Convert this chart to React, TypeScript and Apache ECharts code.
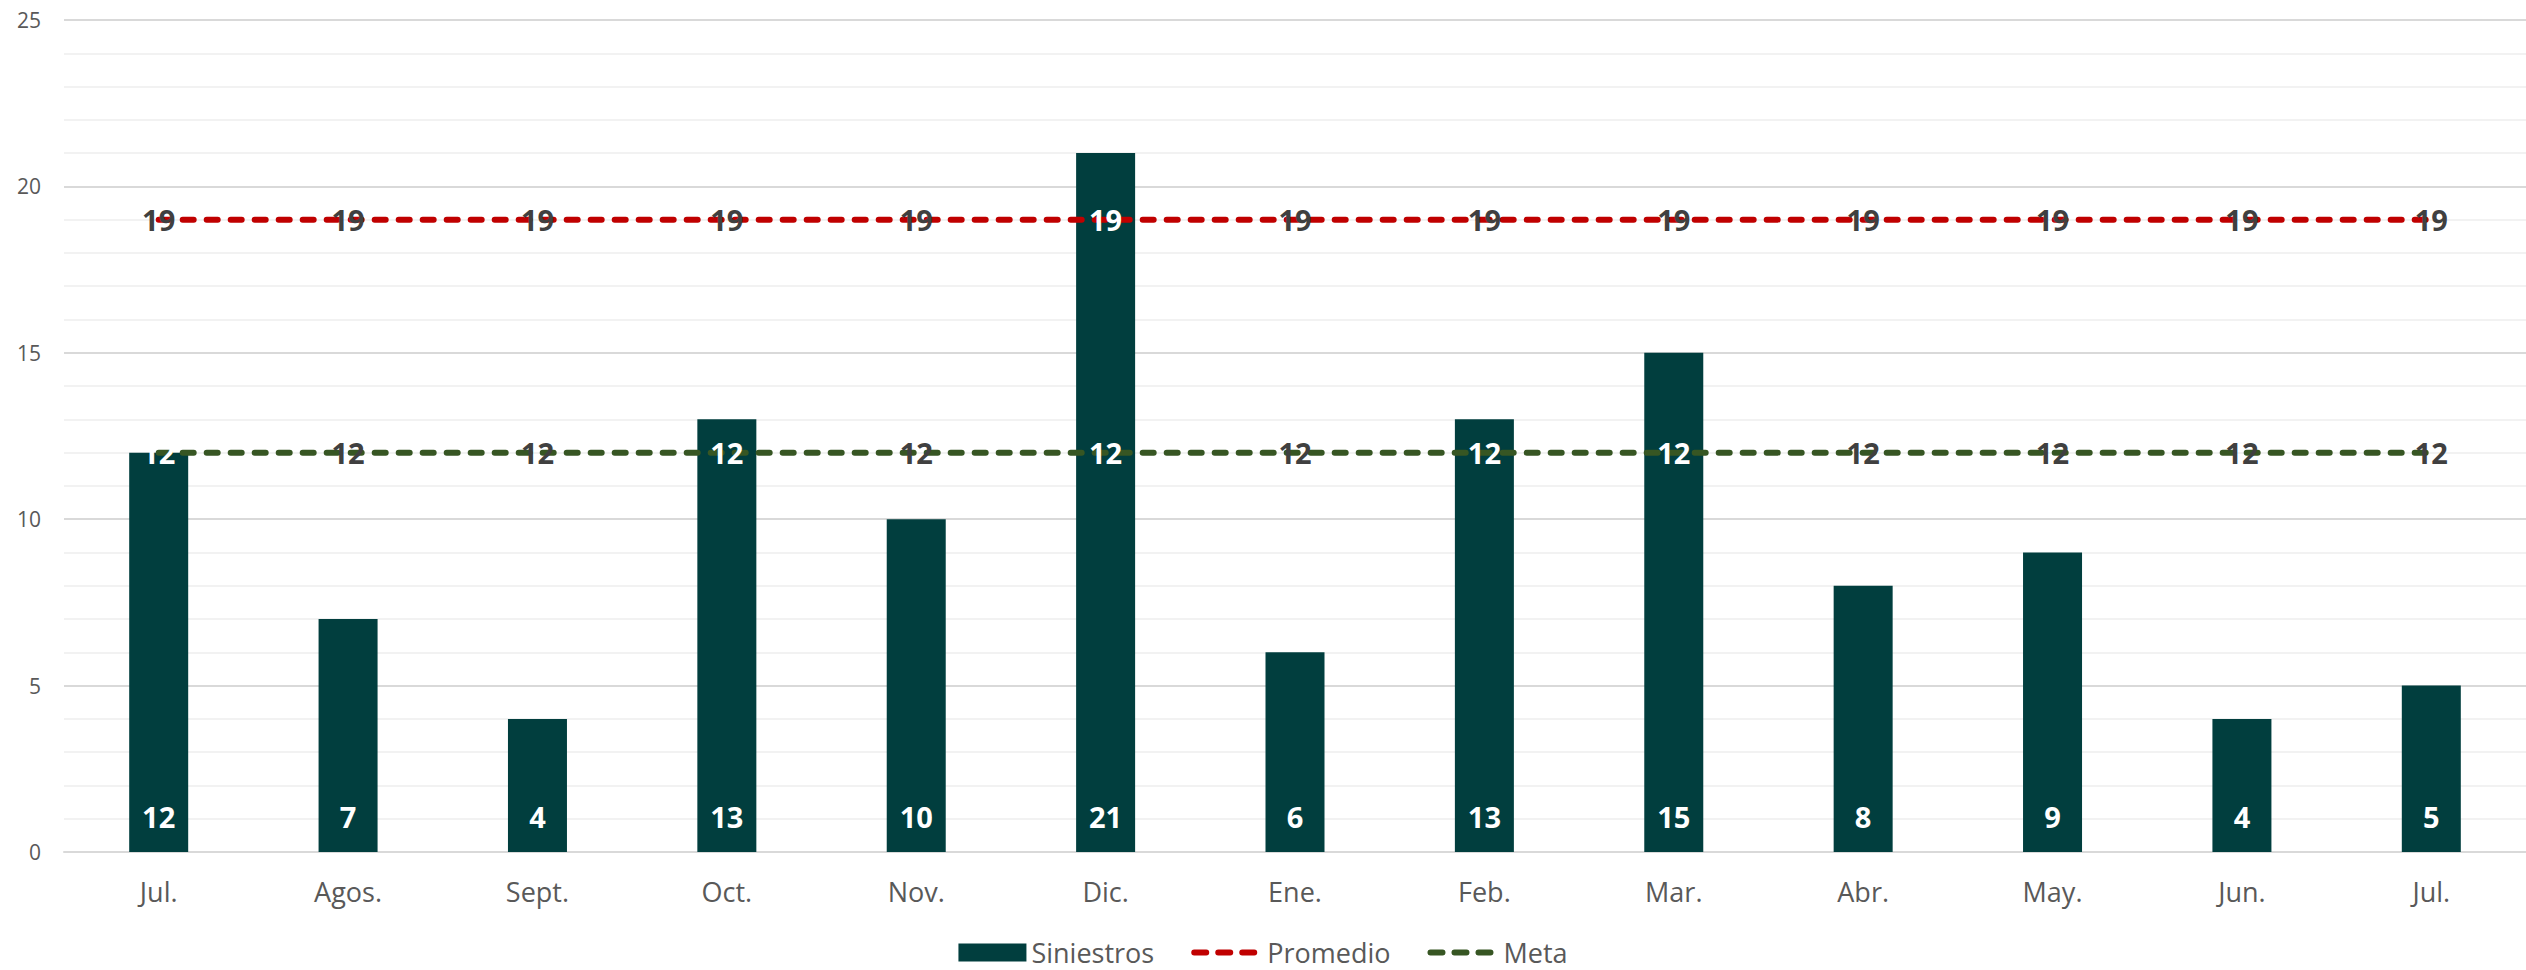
import React, { useEffect, useRef } from "react";
import * as echarts from "echarts";

const categories = ["Jul.", "Agos.", "Sept.", "Oct.", "Nov.", "Dic.", "Ene.", "Feb.", "Mar.", "Abr.", "May.", "Jun.", "Jul."];
const siniestros = [12, 7, 4, 13, 10, 21, 6, 13, 15, 8, 9, 4, 5];
const promedio = [19, 19, 19, 19, 19, 19, 19, 19, 19, 19, 19, 19, 19];
const meta = [12, 12, 12, 12, 12, 12, 12, 12, 12, 12, 12, 12, 12];

const FONT = '"Open Sans", "Noto Sans", sans-serif';
const RED = "#c00000";
const GREEN = "#375623";
const BAR = "#013e3e";
const CLEAR = "rgba(0,0,0,0)";

const lineData = (vals: number[]) =>
  vals.map((v, i) => ({
    value: v,
    label: { color: siniestros[i] >= v ? "#ffffff" : "#404040" },
  }));

export default function App() {
  const ref = useRef<HTMLDivElement>(null);
  useEffect(() => {
    document.body.style.margin = "0";
    const chart = echarts.init(ref.current!, null, { renderer: "svg" });
    const lineLabel = {
      show: true,
      position: "inside",
      color: "#404040",
      fontWeight: "bold",
      fontSize: 29,
      fontFamily: FONT,
    };
    chart.setOption({
      animation: false,
      textStyle: { fontFamily: FONT },
      grid: { left: 64, right: 0, top: 20, bottom: 118 },
      legend: {
        left: "center",
        top: 939,
        padding: 0,
        itemWidth: 68,
        itemHeight: 18,
        itemGap: 37,
        textStyle: { fontSize: 27, color: "#595959", fontFamily: FONT },
        data: [
          { name: "Siniestros", icon: "rect", itemStyle: { color: BAR } },
          {
            name: "Promedio",
            itemStyle: { color: CLEAR, borderWidth: 0 },
            lineStyle: { color: RED, width: 6, type: [12, 12], cap: "round" },
          },
          {
            name: "Meta",
            itemStyle: { color: CLEAR, borderWidth: 0 },
            lineStyle: { color: GREEN, width: 6, type: [12, 12], cap: "round" },
          },
        ],
      },
      xAxis: {
        type: "category",
        data: categories,
        axisTick: { show: false },
        axisLine: { lineStyle: { color: "#d9d9d9", width: 2 } },
        axisLabel: { fontSize: 27, color: "#595959", margin: 26, fontFamily: FONT },
      },
      yAxis: {
        type: "value",
        min: 0,
        max: 25,
        interval: 5,
        axisLabel: { fontSize: 21, color: "#595959", margin: 23, fontFamily: FONT },
        splitLine: { lineStyle: { color: "#d9d9d9", width: 2 } },
        minorTick: { show: false, splitNumber: 5 },
        minorSplitLine: { show: true, lineStyle: { color: "#f2f2f2", width: 2 } },
      },
      series: [
        {
          name: "Siniestros",
          type: "bar",
          data: siniestros,
          barWidth: 59,
          itemStyle: { color: BAR },
          label: {
            show: true,
            position: "insideBottom",
            distance: 21,
            color: "#ffffff",
            fontWeight: "bold",
            fontSize: 29,
            fontFamily: FONT,
          },
        },
        {
          name: "Promedio",
          type: "line",
          data: lineData(promedio),
          symbol: "circle",
          symbolSize: 2,
          showSymbol: true,
          z: 3,
          lineStyle: { color: RED, width: 6, type: [11, 13], cap: "round" },
          itemStyle: { color: CLEAR },
          label: lineLabel,
        },
        {
          name: "Meta",
          type: "line",
          data: lineData(meta),
          symbol: "circle",
          symbolSize: 2,
          showSymbol: true,
          z: 3,
          lineStyle: { color: GREEN, width: 6, type: [11, 13], cap: "round" },
          itemStyle: { color: CLEAR },
          label: lineLabel,
        },
      ],
    });
    return () => chart.dispose();
  }, []);
  return <div ref={ref} style={{ width: 2526, height: 970 }} />;
}
